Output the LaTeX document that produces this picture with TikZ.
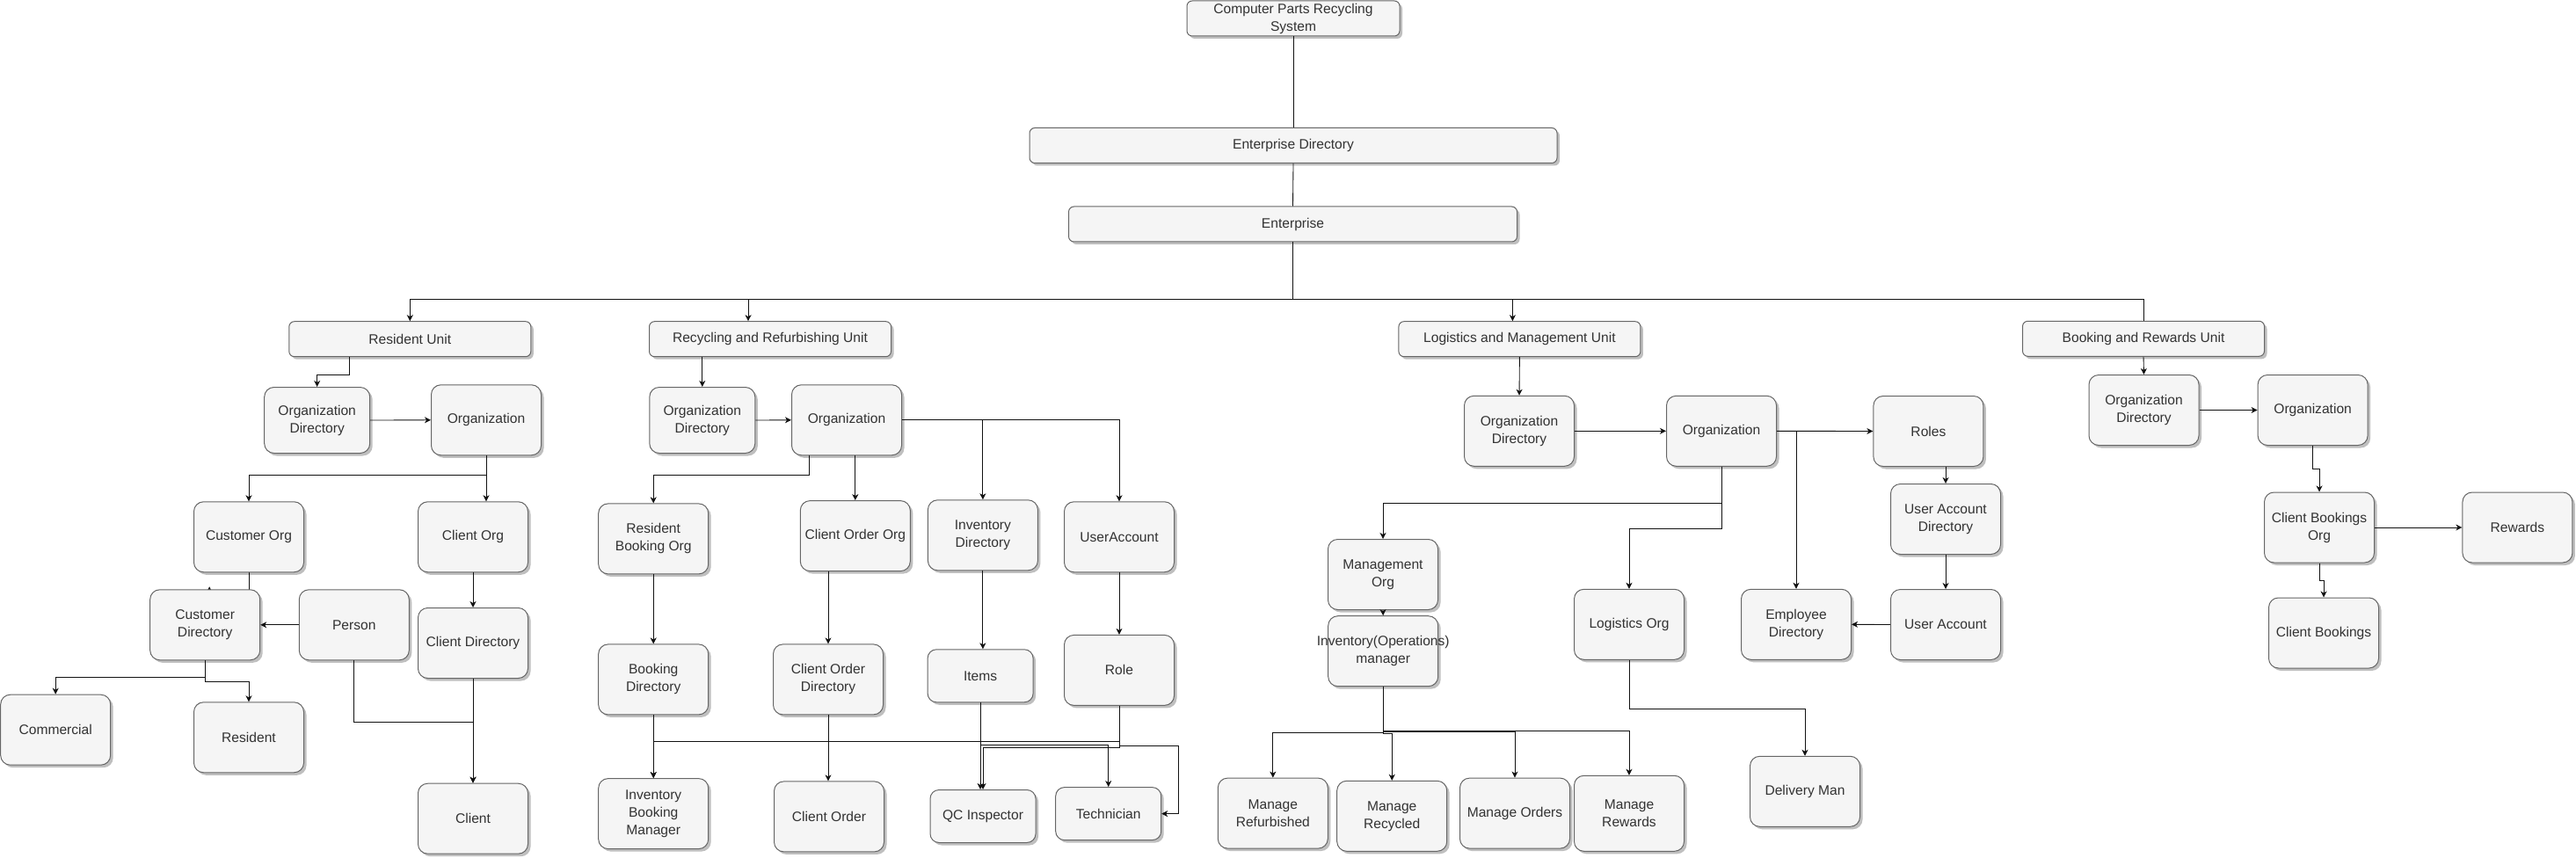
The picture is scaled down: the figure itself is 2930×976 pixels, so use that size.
\documentclass[tikz,border=0pt]{standalone}
\usepackage{fontspec}
\setmainfont{Liberation Sans}
\usetikzlibrary{arrows.meta,shadows}
\pgfdeclarelayer{background}
\pgfsetlayers{background,main}

\begin{document}
\begin{tikzpicture}[x=1pt,y=-1pt,
  basebox/.style={draw=colorstroke, fill=colorfill, text=colortext, line width=1pt,
    align=center, inner sep=1pt, font=\fontsize{15.6}{20}\selectfont,
    drop shadow={shadow xshift=3pt, shadow yshift=-3pt, fill=black, opacity=0.25}},
  unitbox/.style={basebox, rounded corners=6pt, minimum height=40pt},
  orgbox/.style={basebox, rounded corners=11pt, minimum width=125pt, minimum height=80pt},
  smallbox/.style={basebox, rounded corners=10pt, minimum width=120pt, minimum height=60pt},
  conn/.style={-{Stealth[length=7pt,width=7pt,inset=2pt]}, line width=0.85pt, color=colorline},
  plain/.style={line width=0.85pt, color=colorline}]
% Define colors
\definecolor{colorfill}{HTML}{F5F5F5}
\definecolor{colorstroke}{HTML}{666666}
\definecolor{colortext}{HTML}{333333}
\definecolor{colorline}{HTML}{111111}
\useasboundingbox (0,0) rectangle (2930,976);
  %%%%%%%%%% Top of the tree
  \node[unitbox, minimum width=242pt] (system) at (1471,21) {Computer Parts Recycling\\System};
  \node[unitbox, minimum width=600pt] (entdir) at (1471,165.5) {Enterprise Directory};
  \node[unitbox, minimum width=510pt] (ent) at (1470.5,255) {Enterprise};
  \coordinate (bus) at (1470.5,340.7);
  % Units
  \node[unitbox, minimum width=275pt] (resunit) at (466.3,385.7) {Resident Unit};
  \node[unitbox, minimum width=275pt] (recunit) at (876,385.7) {Recycling and Refurbishing Unit};
  \node[unitbox, minimum width=275pt] (logunit) at (1728.4,385.7) {Logistics and Management Unit};
  \node[unitbox, minimum width=275pt] (bookunit) at (2438,385.3) {Booking and Rewards Unit};
  %%%%%%%%%% Resident unit
  \node[orgbox, minimum width=120pt, minimum height=75pt] (resodir) at (360.7,478) {Organization\\Directory};
  \node[orgbox] (resorg) at (553,477.8) {Organization};
  \node[orgbox] (custorg) at (283,610.8) {Customer Org};
  \node[orgbox] (clientorg) at (538,610.8) {Client Org};
  \node[orgbox] (custdir) at (233.2,710.8) {Customer\\Directory};
  \node[orgbox] (person) at (402.8,710.8) {Person};
  \node[orgbox] (clientdir) at (538,731.5) {Client Directory};
  \node[orgbox] (commercial) at (63.2,830.2) {Commercial};
  \node[orgbox] (resident) at (283,838.8) {Resident};
  \node[orgbox] (client) at (538,931.2) {Client};
  %%%%%%%%%% Recycling and refurbishing unit
  \node[orgbox, minimum width=120pt, minimum height=75pt] (recodir) at (798.8,478) {Organization\\Directory};
  \node[orgbox] (recorg) at (963,477.8) {Organization};
  \node[orgbox] (resbookorg) at (743.2,612.9) {Resident\\Booking Org};
  \node[orgbox] (cordorg) at (972.8,609.6) {Client Order Org};
  \node[orgbox] (invdir) at (1117.9,608.8) {Inventory\\Directory};
  \node[orgbox] (useracc) at (1273,610.8) {UserAccount};
  \node[orgbox] (bookdir) at (743.2,772.9) {Booking\\Directory};
  \node[orgbox] (corddir) at (942,772.9) {Client Order\\Directory};
  \node[smallbox] (items) at (1115.1,768.8) {Items};
  \node[orgbox] (role) at (1273,762.4) {Role};
  \node[orgbox] (invbookmgr) at (743.2,925.6) {Inventory\\Booking\\Manager};
  \node[orgbox] (corder) at (943,928.9) {Client Order};
  \node[smallbox] (qcinsp) at (1118,928.5) {QC Inspector};
  \node[smallbox] (tech) at (1260.7,925.6) {Technician};
  %%%%%%%%%% Logistics and management unit
  \node[orgbox] (logodir) at (1728,490.3) {Organization\\Directory};
  \node[orgbox] (logorg) at (1958,490.3) {Organization};
  \node[orgbox] (roles) at (2193.4,490.5) {Roles};
  \node[orgbox] (uadir) at (2213,590.5) {User Account\\Directory};
  \node[orgbox] (uaccount) at (2213,710.5) {User Account};
  \node[orgbox] (empdir) at (2043,710.3) {Employee\\Directory};
  \node[orgbox] (mgmtorg) at (1573,653.5) {Management\\Org};
  \node[orgbox] (invmgr) at (1573.2,740.7) {\makebox[0pt]{Inventory(Operations)}\\manager};
  \node[orgbox] (logisorg) at (1853,710.3) {Logistics Org};
  \node[orgbox] (delivery) at (2053,900.3) {Delivery Man};
  \node[orgbox] (mrefurb) at (1447.8,925.1) {Manage\\Refurbished};
  \node[orgbox] (mrecyc) at (1583.2,928.3) {Manage\\Recycled};
  \node[orgbox] (morders) at (1723,925.1) {Manage Orders};
  \node[orgbox, minimum height=86pt] (mrewards) at (1853,925.3) {Manage\\Rewards};
  %%%%%%%%%% Booking and rewards unit
  \node[orgbox] (bkodir) at (2438.5,466.5) {Organization\\Directory};
  \node[orgbox] (bkorg) at (2630.6,466.5) {Organization};
  \node[orgbox] (cbookorg) at (2638,600) {Client Bookings\\Org};
  \node[orgbox] (rewards) at (2863.4,600) {Rewards};
  \node[orgbox] (cbookings) at (2643,720) {Client Bookings};

  % Draw arrows: top
  \draw[plain] (system.south) -- (entdir.north);
  \draw[plain] (entdir.south) -- (ent.north);
  \draw[conn] (ent.south) -- (bus) -| (resunit.north);
  \draw[conn] (bus) -| ([xshift=-25pt]recunit.north);
  \draw[conn] (bus) -| ([xshift=-8pt]logunit.north);
  \draw[plain] (bus) -| (bookunit.north);
  % Resident unit
  \draw[conn] ([xshift=-69pt]resunit.south) -- ++(0,20) -| (resodir.north);
  \draw[conn] (resodir.east) -- (resorg.west);
  \draw[conn] (resorg.south) -- ++(0,22.6) -| (custorg.north);
  \draw[conn] (resorg.south) -- (resorg.south |- clientorg.north);
  \begin{pgfonlayer}{background}
  \draw[conn] (custorg.south) -- ++(0,40) -| ([xshift=5pt,yshift=3pt]custdir.north);
  \end{pgfonlayer}
  \draw[conn] (person.west) -- (custdir.east);
  \draw[conn] (clientorg.south) -- (clientdir.north);
  \draw[conn] (custdir.south) -- ++(0,19.6) -| (commercial.north);
  \draw[conn] (custdir.south) -- ++(0,23.7) -| (resident.north);
  \draw[conn] (clientdir.south) -- (client.north);
  \draw[conn] (person.south) -- ++(0,70.3) -| (client.north);
  % Recycling and refurbishing unit
  \draw[conn] (recunit.south -| recodir.north) -- (recodir.north);
  \draw[conn] (recodir.east) -- (recorg.west);
  \draw[conn] ([xshift=-42.6pt]recorg.south) -- ++(0,22.6) -| (resbookorg.north);
  \draw[conn] (recorg.south -| cordorg.north) -- (cordorg.north);
  \draw[conn] (recorg.east) -| (invdir.north);
  \draw[conn] (recorg.east) -| (useracc.north);
  \draw[conn] (resbookorg.south) -- (bookdir.north);
  \draw[conn] (cordorg.south -| corddir.north) -- (corddir.north);
  \draw[conn] (invdir.south) -- (invdir.south |- items.north);
  \draw[conn] (useracc.south) -- (role.north);
  \draw[conn] (bookdir.south) -- (invbookmgr.north);
  \draw[conn] (corddir.south) -- (corddir.south |- corder.north);
  \draw[conn] (role.south) -- ++(0,40.9) -| (invbookmgr.north);
  \draw[conn] (role.south) -- ++(0,47.6) -| (qcinsp.north);
  \draw[conn] (role.south) -- ++(0,45.9) -- ++(67,0) |- (tech.east);
  \draw[conn] (items.south) -- (items.south |- qcinsp.north);
  \draw[conn] (items.south) -- ++(0,48.5) -| (tech.north);
  % Logistics and management unit
  \draw[conn] (logunit.south) -- (logodir.north);
  \draw[conn] (logodir.east) -- (logorg.west);
  \draw[conn] (logorg.east) -- (roles.west);
  \draw[conn] (logorg.east) -| (empdir.north);
  \draw[conn] (logorg.south) -- ++(0,41.7) -| (mgmtorg.north);
  \draw[conn] (logorg.south) -- ++(0,70.2) -| (logisorg.north);
  \draw[conn] (roles.south -| uadir.north) -- (uadir.north);
  \draw[conn] (uadir.south) -- (uaccount.north);
  \draw[conn] (uaccount.west) -- (empdir.east);
  \draw[conn] (mgmtorg.south) -- (invmgr.north);
  \draw[conn] (invmgr.south) -- ++(0,52) -| (mrefurb.north);
  \draw[conn] (invmgr.south) -- ++(0,53.6) -| (mrecyc.north);
  \draw[conn] (invmgr.south) -- ++(0,51.5) -| (morders.north);
  \draw[conn] (invmgr.south) -- ++(0,50.6) -| (mrewards.north);
  \draw[conn] (logisorg.south) -- ++(0,55.4) -| (delivery.north);
  % Booking and rewards unit
  \draw[conn] (bookunit.south) -- (bkodir.north);
  \draw[conn] (bkodir.east) -- (bkorg.west);
  \draw[conn] (bkorg.south) -- ++(0,26.8) -| (cbookorg.north);
  \draw[conn] (cbookorg.east) -- (rewards.west);
  \draw[conn] (cbookorg.south) -- ++(0,20) -| (cbookings.north);
\end{tikzpicture}
\end{document}
